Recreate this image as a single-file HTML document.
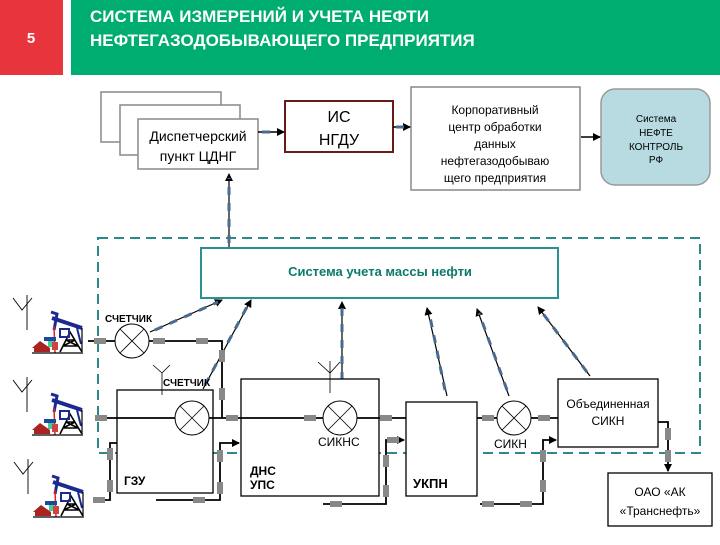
<!DOCTYPE html>
<html><head><meta charset="utf-8"><style>
body{margin:0;width:720px;height:540px;overflow:hidden;background:#fff;font-family:"Liberation Sans",sans-serif}
</style></head><body>
<svg width="720" height="540" xmlns="http://www.w3.org/2000/svg" font-family="Liberation Sans, sans-serif">
<defs>
<marker id="ar" markerWidth="8" markerHeight="8" refX="7" refY="4" orient="auto" markerUnits="userSpaceOnUse"><path d="M0,0 L8,4 L0,8 z" fill="#000"/></marker>
<g id="pj">
<path d="M-17,-6 L-8,6 L2,-6 M-3,-9 L-3,26" stroke="#000" fill="none" stroke-width="0.9"/>
<path d="M22,14 L52,24" stroke="#1a2a90" stroke-width="4"/>
<path d="M21,8 L27,10 L24,26" stroke="#1a2a90" stroke-width="3" fill="none"/>
<path d="M24,22 L25,49" stroke="#d22" stroke-width="1.5"/>
<path d="M30,48 L40,28 L52,48 M33,42 L48,42 M36,36 L45,36 M33,42 L45,36 M36,36 L48,42" stroke="#000" fill="none" stroke-width="1.6"/>
<rect x="30" y="25" width="9" height="8" fill="none" stroke="#1a2a90" stroke-width="2"/>
<path d="M47,24 L51,40" stroke="#1a2a90" stroke-width="2"/>
<path d="M52,24 L52,48" stroke="#000" stroke-width="1.2"/>
<rect x="14" y="33" width="12" height="4" fill="#1a4aa0"/>
<rect x="18" y="37" width="6" height="6" fill="#4c9"/>
<path d="M2,44 L10,37 L20,44 z" fill="#a22"/>
<rect x="4" y="44" width="16" height="4" fill="#a22"/>
<rect x="22" y="38" width="6" height="8" fill="#c44"/>
<path d="M2,49 L53,49" stroke="#000" stroke-width="1.2"/>
</g>
</defs>
<rect x="0" y="0" width="63" height="75" fill="#e8343c"/>
<text x="31" y="43" font-size="15" font-weight="bold" fill="#fff" text-anchor="middle">5</text>
<rect x="71" y="0" width="649" height="75" fill="#00ad70"/>
<text x="90" y="22" font-size="17" font-weight="bold" fill="#fff">СИСТЕМА ИЗМЕРЕНИЙ И УЧЕТА НЕФТИ</text>
<text x="90" y="46" font-size="17" font-weight="bold" fill="#fff">НЕФТЕГАЗОДОБЫВАЮЩЕГО ПРЕДПРИЯТИЯ</text>

<g stroke="#888" stroke-width="1.5" fill="#fff">
<rect x="101" y="92" width="120" height="50"/>
<rect x="120" y="105" width="120" height="50"/>
<rect x="138" y="119" width="120" height="50"/>
</g>
<text x="198" y="141" font-size="14" text-anchor="middle">Диспетчерский</text>
<text x="198" y="161" font-size="14" text-anchor="middle">пункт ЦДНГ</text>
<rect x="285" y="101" width="108" height="51" fill="#fff" stroke="#6b1a1a" stroke-width="2"/>
<text x="339" y="122" font-size="16" text-anchor="middle">ИС</text>
<text x="339" y="145" font-size="16" text-anchor="middle">НГДУ</text>
<rect x="411" y="87" width="169" height="103" fill="#fff" stroke="#888" stroke-width="1.5"/>
<g font-size="12" text-anchor="middle"><text x="495" y="114">Корпоративный</text><text x="495" y="131">центр обработки</text><text x="495" y="148">данных</text><text x="495" y="165">нефтегазодобываю</text><text x="495" y="182">щего предприятия</text></g>
<rect x="601" y="89" width="109" height="96" rx="14" fill="#b7dbe0" stroke="#999" stroke-width="1.5"/>
<g font-size="10" text-anchor="middle"><text x="656" y="122">Система</text><text x="656" y="136">НЕФТЕ</text><text x="656" y="150">КОНТРОЛЬ</text><text x="656" y="163">РФ</text></g>
<path d="M258,132 L284,132" stroke="#000" stroke-width="1.5" marker-end="url(#ar)"/>
<path d="M393,127 L410,127" stroke="#000" stroke-width="1.5" marker-end="url(#ar)"/>
<path d="M581,137 L600,137" stroke="#000" stroke-width="1.5" marker-end="url(#ar)"/>

<rect x="98" y="238" width="602" height="215" fill="none" stroke="#2a8a8a" stroke-width="2" stroke-dasharray="10,6"/>
<rect x="201" y="248" width="357" height="50" fill="#fff" stroke="#2a9090" stroke-width="2"/>
<text x="380" y="276" font-size="13" font-weight="bold" fill="#0b7a6a" text-anchor="middle">Система учета массы нефти</text>
<g stroke="#000" stroke-width="1.2">
<path d="M229,247 L229,174" marker-end="url(#ar)"/>
<path d="M150,332 L222,300" marker-end="url(#ar)"/>
<path d="M203,389 L251,300" marker-end="url(#ar)"/>
<path d="M342,384 L342,302" marker-end="url(#ar)"/>
<path d="M447,396 L427,308" marker-end="url(#ar)"/>
<path d="M509,396 L477,309" marker-end="url(#ar)"/>
<path d="M590,376 L538,307" marker-end="url(#ar)"/>
</g>
<g stroke="#4a6a90" stroke-width="3" stroke-dasharray="8,8" fill="none">
<path d="M229,243 L229,178"/><path d="M155,330 L218,302"/><path d="M205,385 L248,305"/><path d="M342,380 L342,305"/><path d="M445,390 L429,312"/><path d="M507,390 L479,313"/><path d="M587,372 L541,311"/>
<path d="M262,132 L275,132"/><path d="M396,127 L405,127"/>
</g>

<g stroke="#000" stroke-width="1.3" fill="#fff">
<rect x="117" y="390" width="96" height="103"/>
<rect x="241" y="379" width="138" height="117"/>
<rect x="406" y="402" width="71" height="94"/>
<rect x="558" y="379" width="100" height="68"/>
<rect x="608" y="473" width="104" height="53"/>
</g>
<g stroke="#000" stroke-width="1.8" fill="none">
<path d="M88,341 L222,341 L222,418"/>
<path d="M95,418 L406,418"/>
<path d="M477,418 L558,418"/>
<path d="M95,500 L110,500 L110,443 L117,443"/>
<path d="M156,500 L220,500 L220,443 L239,443" marker-end="url(#ar)"/>
<path d="M323,504 L386,504 L386,440 L404,440" marker-end="url(#ar)"/>
<path d="M480,504 L543,504 L543,440 L556,440" marker-end="url(#ar)"/>
<path d="M658,422 L668,422 L668,471" marker-end="url(#ar)"/>
</g>
<g fill="#fff" stroke="#000" stroke-width="1">
<circle cx="132" cy="341" r="17"/><circle cx="192" cy="418" r="17"/><circle cx="340" cy="418" r="17"/><circle cx="514" cy="418" r="17"/>
</g>
<g stroke="#000" stroke-width="0.8"><path d="M120,329 L144,353 M144,329 L120,353 M180,406 L204,430 M204,406 L180,430 M328,406 L352,430 M352,406 L328,430 M502,406 L526,430 M526,406 L502,430"/></g>
<g fill="#888">
<rect x="94" y="338" width="12" height="6"/><rect x="153" y="338" width="12" height="6"/><rect x="196" y="338" width="12" height="6"/>
<rect x="219" y="350" width="6" height="12"/><rect x="219" y="388" width="6" height="12"/>
<rect x="95" y="415" width="12" height="6"/><rect x="226" y="415" width="12" height="6"/><rect x="304" y="415" width="12" height="6"/>
<rect x="380" y="415" width="12" height="6"/><rect x="482" y="415" width="12" height="6"/><rect x="538" y="415" width="12" height="6"/>
<rect x="93" y="497" width="12" height="6"/><rect x="107" y="480" width="6" height="12"/><rect x="107" y="448" width="6" height="12"/>
<rect x="193" y="497" width="12" height="6"/><rect x="217" y="482" width="6" height="12"/><rect x="217" y="450" width="6" height="12"/>
<rect x="330" y="501" width="12" height="6"/><rect x="383" y="485" width="6" height="12"/><rect x="383" y="455" width="6" height="12"/><rect x="387" y="437" width="12" height="6"/>
<rect x="482" y="501" width="12" height="6"/><rect x="520" y="501" width="12" height="6"/><rect x="540" y="480" width="6" height="12"/><rect x="540" y="450" width="6" height="12"/>
<rect x="665" y="428" width="6" height="12"/><rect x="665" y="450" width="6" height="12"/>
</g>
<g font-size="10" font-weight="bold"><text x="105" y="322">СЧЕТЧИК</text><text x="163" y="386">СЧЕТЧИК</text></g>
<path d="M162,373 L162,395 M153,365 L162,373 L170,365" stroke="#000" fill="none" stroke-width="0.8"/>
<path d="M330,393 L330,361 M318,362 L330,373 L340,362" stroke="#000" fill="none" stroke-width="0.8"/>
<text x="124" y="485" font-size="12" font-weight="bold">ГЗУ</text>
<text x="250" y="475" font-size="12" font-weight="bold">ДНС</text>
<text x="250" y="489" font-size="12" font-weight="bold">УПС</text>
<text x="413" y="488" font-size="13" font-weight="bold">УКПН</text>
<text x="318" y="446" font-size="12">СИКНС</text>
<text x="494" y="448" font-size="12">СИКН</text>
<text x="608" y="408" font-size="12" text-anchor="middle">Объединенная</text>
<text x="608" y="425" font-size="12" text-anchor="middle">СИКН</text>
<text x="660" y="496" font-size="12" text-anchor="middle">ОАО «АК</text>
<text x="660" y="515" font-size="12" text-anchor="middle">«Транснефть»</text>
<use href="#pj" transform="translate(30,304)"/>
<use href="#pj" transform="translate(30,386)"/>
<use href="#pj" transform="translate(31,468)"/>
</svg>
</body></html>
